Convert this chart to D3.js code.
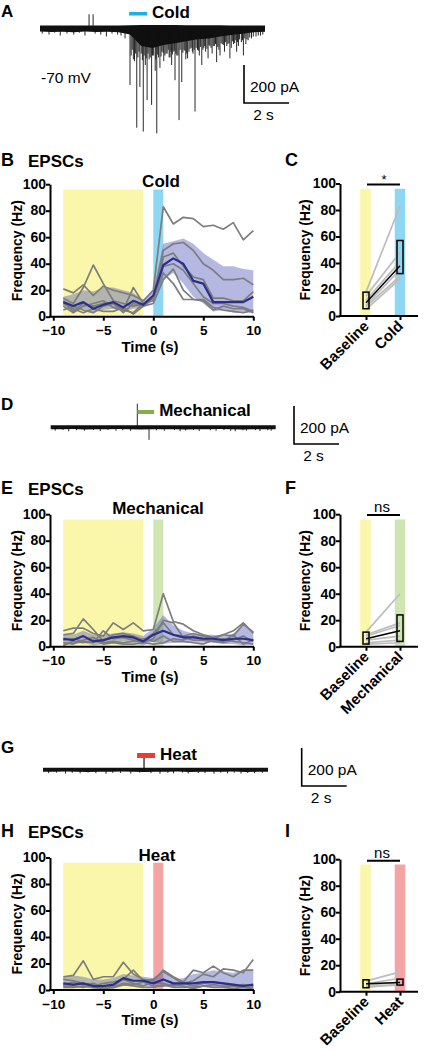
<!DOCTYPE html>
<html><head><meta charset="utf-8">
<script src="https://cdn.jsdelivr.net/npm/d3@7"></script>
<style>body{margin:0;background:#fff}svg{display:block;font-family:"Liberation Sans",Arial,Helvetica,sans-serif}</style>
</head><body><svg id="c" width="424" height="1050"></svg>
<script>
// ---------------- DATA ----------------
const timePoints = [-9,-8,-7,-6,-5,-4,-3,-2,-1,0,1,2,3,4,5,6,7,8,9,10];
const xTicks = [-10,-5,0,5,10];
const yTicks = [0,20,40,60,80,100];
const baselineWindow = [-9,-1];
const stimWindow = [0,1];
const shadeTop = 96;

// Panel B (cold)
const coldMean  = [11,8,11,6,9,11,7,12,9,16,39,44,40,27,25,11,11,11,11,15];
const coldUpper = [15,17,20,19,22,22,20,18,12,20,55,57,59,55,48,43,38,38,36,35];
const coldLower = [8,4,6,3,5,6,4,6,7,12,28,33,25,15,10,4,5,3,3,3];
const coldCells = [
  [21,18,24,16,23,20,18,16,12,20,83,70,75,74,68,69,66,71,58,65],
  [14,10,22,39,25,12,10,8,10,14,50,55,56,50,40,35,28,28,29,24],
  [8,3,8,10,12,7,5,22,10,12,45,48,38,30,28,14,14,12,12,19],
  [5,8,5,3,8,10,5,3,10,15,38,40,35,25,15,10,10,8,7,4],
  [10,6,3,6,4,4,7,2,8,10,28,36,20,13,13,7,5,4,3,5],
  [12,4,10,8,10,10,3,10,8,14,33,25,13,13,12,5,8,6,6,3]
];
// Panel E (mechanical)
const mechMean  = [6,5,8,4,5,7,8,7,4,9,12,9,7,7,6,6,5,6,6,5];
const mechUpper = [9,9,12,9,9,10,11,10,8,14,24,16,12,10,9,9,8,10,17,10];
const mechLower = [2,2,3,1,2,3,4,3,1,4,2,3,3,3,3,3,2,2,1,2];
const mechCells = [
  [12,14,14,10,8,18,13,18,12,13,40,19,17,12,9,7,9,12,18,10],
  [9,10,21,13,4,9,10,8,5,10,18,9,8,10,8,6,9,8,17,11],
  [5,6,4,3,12,6,7,5,3,6,20,18,7,5,5,4,3,5,8,4],
  [3,2,5,7,3,4,3,4,6,4,8,4,4,3,2,5,6,4,3,2],
  [1,4,3,5,2,3,2,2,3,2,3,6,5,8,6,4,4,9,2,5]
];
// Panel H (heat)
const heatMean  = [5,4,5,3,3,4,9,7,7,5,8,5,5,5,6,6,5,4,3,4];
const heatUpper = [10,11,10,8,8,9,12,11,10,9,14,8,9,12,13,15,14,13,15,15];
const heatLower = [2,2,2,1,1,1,3,3,3,2,3,2,2,2,2,2,2,1,1,1];
const heatCells = [
  [10,11,22,8,10,10,21,12,8,7,15,10,6,15,13,18,13,10,15,15],
  [8,7,5,3,5,6,8,15,7,8,14,9,5,7,12,10,16,15,13,23],
  [4,6,4,5,2,3,8,5,3,6,5,3,5,3,5,6,5,3,4,3],
  [2,2,3,2,1,2,4,3,2,2,4,2,2,2,3,2,2,1,2,2],
  [3,3,2,4,3,2,5,4,6,3,3,4,3,1,3,4,3,3,2,1]
];

// Paired panels
const pairCategoriesC = ["Baseline","Cold"];
const pairBaseC = [18,15,12,5,8,7];
const pairStimC = [83,48,41,28,35,30];
const boxC = [[5.5,18],[32,57]];
const meanC = [10,38];
const sigC = "*";

const pairCategoriesF = ["Baseline","Mechanical"];
const pairBaseF = [11,9,8,5,3,2];
const pairStimF = [40,18,16,8,5,3];
const boxF = [[2,11],[4,24]];
const meanF = [6,12];
const sigF = "ns";

const pairCategoriesI = ["Baseline","Heat"];
const pairBaseI = [8,6,5,4,3];
const pairStimI = [15,10,7,5,6];
const boxI = [[3,9],[5,9.5]];
const meanI = [6,7];
const sigI = "ns";

// Trace A (cold) : noise envelope (every 0.5 s) and spikes (s, pA)
const envT = [0,0.5,1,1.5,2,2.5,3,3.5,4,4.5,5,5.5,6,6.5,7,7.5,8,8.5,9,9.5,10];
const envALow = [-24,-26,-25,-27,-24,-26,-25,-27,-40,-100,-110,-95,-85,-75,-65,-60,-50,-42,-35,-28,-25];
const envAHigh = [8,8,8,8,8,8,8,8,9,10,10,10,10,9,9,9,9,8,8,8,8];
const spikeAT = [0.1,0.4,0.65,0.9,1.2,1.5,1.75,2.0,2.45,2.7,2.95,3.2,3.45,3.6,3.78,
  4.0,4.1,4.2,4.3,4.44,4.5,4.59,4.68,4.76,4.85,4.96,5.05,5.12,5.19,5.27,5.33,5.42,5.5,5.6,5.7,5.78,5.85,5.92,6.0,6.08,6.18,6.3,6.4,6.48,6.56,6.62,6.72,6.8,6.89,7.0,7.08,7.19,7.28,7.36,7.47,7.55,7.65,7.75,7.85,7.95,8.0,8.1,8.2,8.3,8.44,8.5,8.6,8.74,8.82,8.95,9.04,9.15,9.25,9.4,9.6,9.8,
  2.18,2.36];
const spikeAAmp = [-35,-40,-30,-45,-35,-40,-30,-45,-35,-40,-50,-35,-40,-45,-60,
  -305,-120,-180,-530,-315,-140,-550,-200,-385,-170,-410,-150,-230,-560,-160,-215,-130,-180,-140,-120,-160,-200,-130,-280,-150,-490,-290,-120,-170,-165,-130,-110,-140,-445,-120,-150,-200,-110,-130,-165,-100,-140,-100,-185,-120,-150,-90,-130,-100,-165,-110,-90,-130,-100,-80,-150,-90,-70,-60,-50,-45,
  67,67];
const spikeA2T = [4.05,4.15,4.25,4.35,4.4,4.55,4.63,4.72,4.8,4.9,5.0,5.15,5.23,5.38,5.47,5.55,5.65,5.74,5.82,5.88,5.97,6.04,6.13,6.23,6.35,6.44,6.52,6.67,6.77,6.85,6.94,7.04,7.13,7.24,7.32,7.42,7.51,7.6,7.7,7.8,7.9,8.05,8.15,8.25,8.35,8.4,8.55,8.65,8.7,8.78,8.87,9.0,9.1,9.2,9.32,9.48,9.7,9.9];
const spikeA2Amp = [-150,-170,-140,-160,-130,-175,-150,-165,-140,-160,-150,-170,-145,-155,-135,-150,-140,-160,-130,-145,-125,-140,-150,-120,-135,-125,-140,-115,-130,-120,-110,-125,-105,-120,-100,-115,-95,-110,-100,-90,-105,-85,-95,-80,-90,-85,-75,-85,-70,-80,-65,-70,-60,-65,-55,-50,-45,-40];
// Trace D (mechanical)
const envDLow = [-14,-15,-13,-16,-14,-15,-13,-15,-16,-15,-14,-15,-16,-14,-15,-13,-15,-16,-14,-15,-14];
const envDHigh = [6,6,6,6,6,6,6,6,6,6,6,6,6,6,6,6,6,6,6,6,6];
const spikeDT = [0.2,0.55,0.8,1.15,1.5,1.9,2.2,2.55,2.9,3.2,3.55,3.85,4.37,4.7,5.05,5.5,5.75,6.0,6.35,6.6,7.1,7.35,7.7,8.0,8.2,8.55,8.7,9.1,9.3,9.65,9.8];
const spikeDAmp = [-22,-18,-25,-20,-22,-19,-24,-18,-22,-20,-23,120,-70,-20,-22,-19,-25,-21,-18,-24,-20,-22,-19,-23,-25,-20,-22,-19,-24,-20,-22];
// Trace G (heat)
const envGLow = [-14,-15,-13,-15,-16,-14,-15,-13,-15,-16,-14,-15,-13,-16,-15,-14,-15,-13,-16,-15,-14];
const envGHigh = [6,6,6,6,6,6,6,6,6,6,6,6,6,6,6,6,6,6,6,6,6];
const spikeGT = [0.25,0.6,1.0,1.3,1.65,2.0,2.35,2.8,3.1,3.45,3.9,4.3,4.8,5.2,5.55,5.8,6.2,6.45,6.9,7.2,7.6,7.9,8.2,8.5,8.8,9.1,9.4,9.75];
const spikeGAmp = [-22,-19,-24,-20,-23,-18,-22,-25,-20,-21,-24,-19,-22,-25,-20,-23,-19,-24,-21,-22,-25,-19,-23,-20,-24,-21,-22,-20];

// ---------------- DRAWING ----------------
const svg = d3.select("#c");
const FONT = '"Liberation Sans",Arial,Helvetica,sans-serif';
const YELLOW = "#faf7aa";

function txt(g, x, y, s, size, weight, anchor){
  return g.append("text").attr("x",x).attr("y",y).text(s)
    .attr("font-size",size).attr("font-weight",weight||"normal")
    .attr("text-anchor",anchor||"start").attr("fill","#000");
}

function styleAxis(a, size){
  a.selectAll("path").attr("stroke","#000").attr("stroke-width",2);
  a.selectAll("line").attr("stroke","#000").attr("stroke-width",2);
  a.selectAll("text").attr("font-size",size||14).attr("font-weight","bold").attr("font-family",FONT).attr("fill","#000");
}

function timecourse(cfg){
  const x = d3.scaleLinear().domain([-10,10]).range([53.3,253.3]);
  const y = d3.scaleLinear().domain([0,100]).range([cfg.y0, cfg.y0-132.5]);
  const g = svg.append("g");
  g.append("rect").attr("x",x(baselineWindow[0])).attr("width",x(baselineWindow[1])-x(baselineWindow[0]))
    .attr("y",y(shadeTop)).attr("height",y(0)-y(shadeTop)).attr("fill",YELLOW);
  g.append("rect").attr("x",x(stimWindow[0])).attr("width",x(stimWindow[1])-x(stimWindow[0]))
    .attr("y",y(shadeTop)).attr("height",y(0)-y(shadeTop)).attr("fill",cfg.stimColor);
  const area = d3.area().x((d,i)=>x(timePoints[i])).y0((d,i)=>y(cfg.lower[i])).y1((d,i)=>y(cfg.upper[i]));
  g.append("path").attr("d",area(cfg.upper)).attr("fill","rgba(70,80,180,0.40)");
  const line = d3.line().x((d,i)=>x(timePoints[i])).y(d=>y(d));
  cfg.cells.forEach(c=>{
    g.append("path").attr("d",line(c)).attr("fill","none").attr("stroke","#7d7d7d").attr("stroke-width",1.7).attr("stroke-linejoin","round");
  });
  g.append("path").attr("d",line(cfg.mean)).attr("fill","none").attr("stroke","#2b2e8c").attr("stroke-width",2.2).attr("stroke-linejoin","round");
  // axes
  const ya = g.append("g").attr("transform","translate(50,0)")
    .call(d3.axisLeft(y).tickValues(yTicks).tickSize(4).tickPadding(0).tickSizeOuter(0));
  styleAxis(ya, 14);
  ya.selectAll("text").attr("dy","0.28em");
  const xa = g.append("g").attr("transform",`translate(0,${cfg.y0})`)
    .call(d3.axisBottom(x).tickValues(xTicks).tickSize(4).tickPadding(1).tickSizeOuter(0).tickFormat(d3.format("d")));
  styleAxis(xa, 13.5);
  xa.select("path").attr("d",`M49,0H254`);
  xa.selectAll("text").attr("y",0).attr("dy",0).attr("transform","translate(0,18.7)");
  txt(g,150,cfg.y0+35.3,"Time (s)",15,"bold","middle");
  g.append("text").attr("transform",`translate(22,${cfg.y0-66})rotate(-90)`).attr("text-anchor","middle")
    .attr("font-size",14).attr("font-weight","bold").text("Frequency (Hz)");
  txt(g,1,cfg.labelY,cfg.letter,18,"bold");
  txt(g,28,cfg.labelY+1,"EPSCs",17,"bold");
  txt(g,cfg.titleX,cfg.titleY,cfg.title,17,"bold","middle");
  txt(g,285,cfg.labelY,cfg.letter2,18,"bold");
}

function paired(cfg){
  const x = d3.scalePoint().domain(cfg.cats).range([366,400]);
  const y = d3.scaleLinear().domain([0,100]).range([cfg.y0, cfg.y0-132.5]);
  const g = svg.append("g");
  const bw = 10.5;
  g.append("rect").attr("x",x(cfg.cats[0])-bw/2-0.5).attr("width",bw).attr("y",y(shadeTop)).attr("height",y(0)-y(shadeTop)).attr("fill",YELLOW);
  g.append("rect").attr("x",x(cfg.cats[1])-bw/2).attr("width",bw).attr("y",y(shadeTop)).attr("height",y(0)-y(shadeTop)).attr("fill",cfg.stimColor);
  cfg.base.forEach((b,i)=>{
    g.append("line").attr("x1",x(cfg.cats[0])).attr("x2",x(cfg.cats[1])).attr("y1",y(b)).attr("y2",y(cfg.stim[i]))
      .attr("stroke","#bdbdbd").attr("stroke-width",1.7);
  });
  cfg.box.forEach((bx,i)=>{
    g.append("rect").attr("x",x(cfg.cats[i])-3).attr("width",6).attr("y",y(bx[1])).attr("height",y(bx[0])-y(bx[1]))
      .attr("fill","none").attr("stroke","#000").attr("stroke-width",1.5);
  });
  g.append("line").attr("x1",x(cfg.cats[0])).attr("x2",x(cfg.cats[1])).attr("y1",y(cfg.mean[0])).attr("y2",y(cfg.mean[1]))
    .attr("stroke","#000").attr("stroke-width",1.5);
  const ya = g.append("g").attr("transform","translate(340,0)")
    .call(d3.axisLeft(y).tickValues(yTicks).tickSize(4).tickPadding(0).tickSizeOuter(0));
  styleAxis(ya, 14);
  const xa = g.append("g").attr("transform",`translate(0,${cfg.y0})`)
    .call(d3.axisBottom(x).tickSize(4).tickSizeOuter(0).tickFormat(""));
  styleAxis(xa);
  xa.select("path").attr("d","M339,0H418");
  cfg.cats.forEach(c=>{
    g.append("text").attr("transform",`translate(${x(c)+4},${cfg.y0+11})rotate(-45)`).attr("text-anchor","end")
      .attr("font-size",15).attr("font-weight","bold").text(c);
  });
  g.append("text").attr("transform",`translate(310,${cfg.y0-66})rotate(-90)`).attr("text-anchor","middle")
    .attr("font-size",14).attr("font-weight","bold").text("Frequency (Hz)");
  // significance
  g.append("line").attr("x1",367).attr("x2",400).attr("y1",cfg.sigY).attr("y2",cfg.sigY).attr("stroke","#000").attr("stroke-width",2);
  if(cfg.sig==="*") txt(g,384,cfg.sigY-1,"*",13,"normal","middle");
  else txt(g,382,cfg.sigY-3,cfg.sig,15,"normal","middle");
}

function trace(cfg){
  const x = d3.scaleLinear().domain([0,10]).range([cfg.x0, cfg.x0+225]);
  const y = d3.scaleLinear().domain([0,-200]).range([cfg.base, cfg.base+38]);
  const g = svg.append("g");
  const area = d3.area().x((d,i)=>x(envT[i])).y0((d,i)=>y(cfg.low[i])).y1((d,i)=>y(cfg.high[i]));
  g.append("path").attr("d",area(cfg.low)).attr("fill","#111");
  cfg.spikes.forEach(([ts,as])=>{
    ts.forEach((t,i)=>{
      g.append("line").attr("x1",x(t)).attr("x2",x(t)).attr("y1",y(0)).attr("y2",y(as[i]))
        .attr("stroke","#111").attr("stroke-width",0.9);
    });
  });
  // stimulus bar
  g.append("rect").attr("x",x(cfg.stim[0])).attr("width",x(cfg.stim[1])-x(cfg.stim[0]))
    .attr("y",cfg.barY).attr("height",cfg.barH).attr("fill",cfg.barColor);
  if(cfg.stem!==undefined){
    g.append("line").attr("x1",x(cfg.stem)).attr("x2",x(cfg.stem)).attr("y1",cfg.barY+cfg.barH).attr("y2",y(0)).attr("stroke","#111").attr("stroke-width",1.2);
  }
  txt(g,x(cfg.stim[1])+5,cfg.barY+cfg.barH+2,cfg.label,17,"bold");
  txt(g,1,cfg.letterY,cfg.letter,17,"bold");
  // scale bar: 200 pA x 2 s
  const sx = cfg.sbX, sy = cfg.sbY, sh = y(-200)-y(0), sw = x(2)-x(0);
  g.append("path").attr("d",`M${sx},${sy}V${sy+sh}H${sx+sw}`).attr("fill","none").attr("stroke","#000").attr("stroke-width",1.6);
  txt(g,sx+6,sy+sh-11,"200 pA",15.5,"normal");
  txt(g,sx+sw/2-3,sy+sh+17,"2 s",15.5,"normal","middle");
}

// A
trace({x0:40, base:27, low:envALow, high:envAHigh, spikes:[[spikeAT,spikeAAmp],[spikeA2T,spikeA2Amp]], stim:[3.96,4.76],
  barY:12, barH:3.5, barColor:"#1eaee6", label:"Cold", letter:"A", letterY:17, sbX:244, sbY:65});
txt(svg,41,83,"-70 mV",15.5,"normal");
// D
trace({x0:50.7, base:426.5, low:envDLow, high:envDHigh, spikes:[[spikeDT,spikeDAmp]], stim:[3.85,4.6],
  barY:410, barH:4, barColor:"#8aad4c", label:"Mechanical", letter:"D", letterY:410, sbX:294, sbY:406});
// G
trace({x0:43, base:769, low:envGLow, high:envGHigh, spikes:[[spikeGT,spikeGAmp]], stim:[4.18,4.98], stem:4.49,
  barY:753, barH:5, barColor:"#ee3a32", label:"Heat", letter:"G", letterY:753, sbX:301.7, sbY:748});

// B, E, H
timecourse({y0:316.7, mean:coldMean, upper:coldUpper, lower:coldLower, cells:coldCells, stimColor:"#8dd7f2",
  title:"Cold", titleX:161, titleY:187, letter:"B", letter2:"C", labelY:166});
timecourse({y0:646.7, mean:mechMean, upper:mechUpper, lower:mechLower, cells:mechCells, stimColor:"#d0e6b2",
  title:"Mechanical", titleX:158, titleY:514, letter:"E", letter2:"F", labelY:494});
timecourse({y0:990, mean:heatMean, upper:heatUpper, lower:heatLower, cells:heatCells, stimColor:"#f5a4a6",
  title:"Heat", titleX:157, titleY:861, letter:"H", letter2:"I", labelY:837});

// C, F, I
paired({y0:316, cats:pairCategoriesC, base:pairBaseC, stim:pairStimC, box:boxC, mean:meanC, sig:sigC, sigY:184.5, stimColor:"#8dd7f2"});
paired({y0:646.7, cats:pairCategoriesF, base:pairBaseF, stim:pairStimF, box:boxF, mean:meanF, sig:sigF, sigY:515, stimColor:"#d0e6b2"});
paired({y0:991.7, cats:pairCategoriesI, base:pairBaseI, stim:pairStimI, box:boxI, mean:meanI, sig:sigI, sigY:860.7, stimColor:"#f5a4a6"});
</script>
</body></html>
